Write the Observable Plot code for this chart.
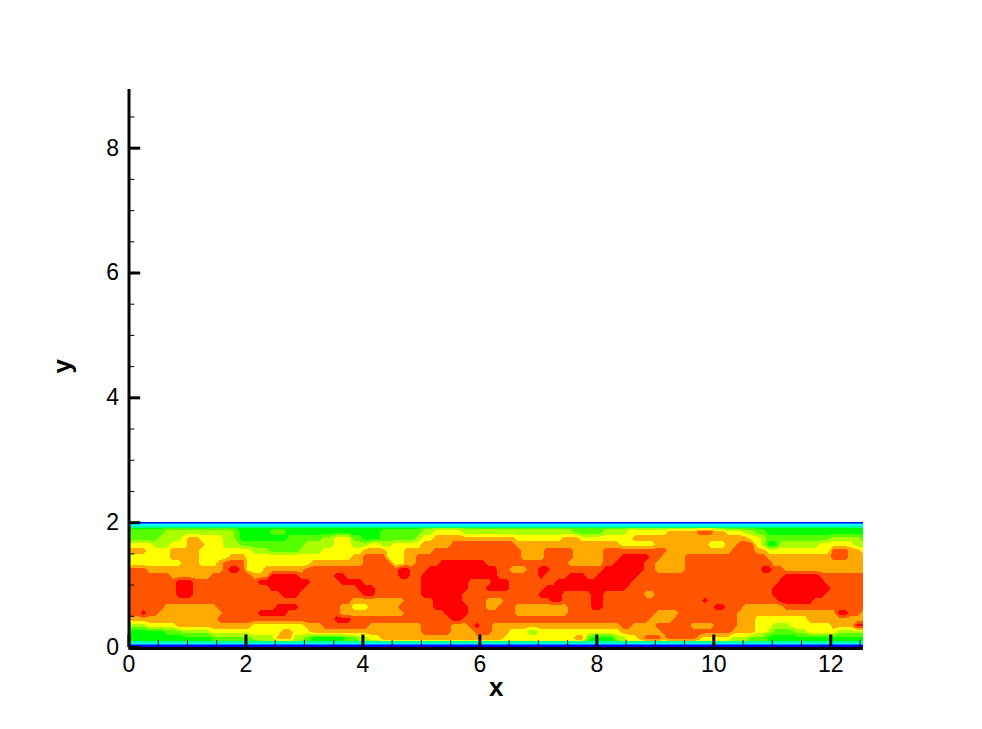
<!DOCTYPE html>
<html><head><meta charset="utf-8">
<style>html,body{margin:0;padding:0;background:#fff}svg{display:block}</style>
<script src="https://cdn.jsdelivr.net/npm/d3@7"></script>
<script src="https://cdn.jsdelivr.net/npm/@observablehq/plot@0.6"></script>
</head><body>
<script>
// Contour level, one string per row (top row first, rows 0.1 apart in y).
// Each token is level:endColumn, where columns are 0.1 apart in x.
const fieldRows = [
"6:50 7:100 6:126",
"7:6 8:18 7:19 6:24 7:27 6:43 7:50 8:52 9:57 8:76 7:81 8:85 9:92 a:97 b:100 a:102 9:105 8:107 7:109 6:126",
"7:5 8:9 9:10 a:12 9:16 8:18 7:19 6:27 7:33 8:35 9:38 7:40 6:43 7:49 8:50 9:52 a:66 9:74 a:77 9:85 9:86 a:106 9:108 8:109 7:120 8:125 7:126",
"9:4 8:7 9:10 a:13 9:16 8:19 7:30 8:35 9:38 8:41 9:43 8:45 9:50 a:55 b:66 a:84 9:90 a:99 9:102 a:104 b:107 9:108 8:109 6:111 8:118 9:124 8:126",
"a:3 9:7 a:12 9:21 8:24 7:29 8:33 9:40 a:44 9:47 a:52 b:67 a:71 b:76 a:81 b:92 a:103 b:107 a:109 9:120 b:123 a:125 9:126",
"9:7 a:12 9:17 a:20 9:38 a:40 b:44 9:47 a:49 b:67 a:71 b:76 a:81 b:84 c:89 b:91 a:95 b:109 a:120 b:123 a:126",
"9:9 a:12 9:15 a:16 b:20 9:31 a:40 b:45 9:47 a:49 b:53 c:61 b:75 a:81 b:83 c:88 b:90 a:95 b:110 a:126",
"b:3 a:16 b:17 c:19 b:20 9:23 a:30 b:46 c:48 b:51 c:63 b:65 a:68 b:70 c:72 b:81 c:88 b:90 a:95 b:108 c:110 b:112 a:126",
"b:7 a:14 b:21 a:24 c:29 b:35 c:37 b:46 c:48 b:50 c:63 b:70 c:71 b:75 c:78 b:80 c:87 b:112 c:118 b:126",
"b:8 c:11 b:22 c:31 b:36 c:40 b:50 c:58 b:62 c:65 b:73 c:86 b:111 c:119 b:126",
"b:8 c:11 b:24 c:30 b:39 c:42 b:50 c:58 b:61 c:65 b:71 c:85 b:110 c:120 b:126",
"b:8 c:11 b:26 c:29 b:40 c:42 b:50 c:57 b:70 c:74 b:79 c:81 b:88 a:90 b:110 c:119 b:126",
"b:38 a:47 b:52 c:57 b:61 a:64 b:72 c:74 b:79 c:81 b:98 c:99 b:111 c:117 b:126",
"b:6 a:15 b:25 c:29 b:36 a:38 9:41 a:46 b:52 c:58 b:61 a:63 b:66 a:75 b:79 c:81 b:100 c:102 b:105 a:112 b:126",
"b:2 c:3 b:5 a:16 b:22 c:27 b:36 a:47 b:54 c:58 b:66 a:75 b:90 a:94 b:104 a:121 c:123 b:125 a:126",
"a:15 b:35 c:38 b:55 c:57 b:89 a:93 b:104 a:107 9:116 a:126",
"8:3 9:8 a:21 9:30 a:33 b:41 a:50 b:55 a:58 b:59 c:60 b:62 a:84 b:86 a:90 b:96 a:100 b:104 a:107 9:110 8:113 9:120 a:124 c:126",
"6:6 7:9 8:14 9:26 a:28 9:31 a:50 b:55 a:59 b:62 a:65 9:68 8:70 9:84 a:91 b:103 a:107 9:109 8:110 7:114 8:116 9:121 8:126",
"6:14 7:21 8:25 a:28 8:30 7:31 6:37 7:39 8:41 9:43 a:64 9:76 a:78 7:79 6:83 8:85 9:87 a:88 b:91 a:92 b:97 a:98 9:103 8:106 7:109 6:126",
"6:22 7:43 8:78 6:84 8:105 7:110 6:115 5:126"
];
const fieldWidth = 126;
const fieldHeight = 20;
const levels = [4.5,5.5,6.5,7.5,8.5,9.5,10.5,11.5];
const levelColors = ["#00ff55","#00ff00","#55ff00","#aaff00","#ffff00","#ffaa00","#ff5500","#ff0000"];

// thin wall layers, from the bottom wall up and from the top wall down
const wallLow  = [0,    0.025, 0.05,  0.07];
const wallHigh = [0.025,0.05,  0.07,  0.09];
const topLow   = [1.985,1.965, 1.94,  1.91];
const topHigh  = [2,    1.985, 1.965, 1.94];
const wallColors = ["#0000ff","#0080ff","#00ffff","#00ff99"];

const xMajor = [0,2,4,6,8,10,12];
const xMinor = [0.5,1,1.5,2.5,3,3.5,4.5,5,5.5,6.5,7,7.5,8.5,9,9.5,10.5,11,11.5,12.5];
const yMajor = [0,2,4,6,8];
const yMinor = [0.5,1,1.5,2.5,3,3.5,4.5,5,5.5,6.5,7,7.5,8.5];
const xMax = 12.56, yMax = 8.94;

const expandRow = r => {
  const out = []; 
  for (const tok of r.split(" ")) {
    const [lev, end] = tok.split(":");
    while (out.length < +end) out.push(parseInt(lev, 16));
  }
  return out;
};
const values = fieldRows.slice().reverse().flatMap(expandRow);

const wallMark = (lo, hi) => Plot.rect(wallColors.map((c,i)=>i), {
  x1: 0, x2: xMax, y1: i => lo[i], y2: i => hi[i],
  fill: i => wallColors[i], shapeRendering: "crispEdges", inset: 0
});

const chart = Plot.plot({
  width: 982, height: 729,
  marginLeft: 128.5, marginRight: 119, marginTop: 89, marginBottom: 82,
  style: {fontFamily: "'Liberation Sans', Arial, sans-serif", background: "#fff", color: "#000"},
  x: {domain: [0, xMax], label: null},
  y: {domain: [0, yMax], label: null},
  color: {type: "ordinal", domain: levels, range: levelColors},
  marks: [
    Plot.contour(values, {
      x1: 0, x2: 12.6, y1: 0, y2: 2, width: fieldWidth, height: fieldHeight,
      fill: Plot.identity, thresholds: levels, clip: true, stroke: "none",
      shapeRendering: "crispEdges"
    }),
    wallMark(wallLow, wallHigh),
    wallMark(topLow, topHigh),
    Plot.axisX({ticks: xMajor, tickSize: 0, tickPadding: 8, fontSize: 23, label: null, tickFormat: d => d}),
    Plot.axisY({ticks: yMajor, tickSize: 0, tickPadding: 10, fontSize: 23, label: null, tickFormat: d => d}),
    Plot.ruleX(xMajor, {y1: 0, y2: 0.2, stroke: "#000", strokeWidth: 3}),
    Plot.ruleX(xMinor, {y1: 0, y2: 0.11, stroke: "#000", strokeWidth: 1}),
    Plot.ruleY(yMajor, {x1: 0, x2: 0.2, stroke: "#000", strokeWidth: 3}),
    Plot.ruleY(yMinor, {x1: 0, x2: 0.1, stroke: "#000", strokeWidth: 1}),
    Plot.ruleX([0], {y1: 0, y2: yMax, stroke: "#000", strokeWidth: 3}),
    Plot.ruleY([0], {x1: 0, x2: xMax, dy: 1, stroke: "#000", strokeWidth: 3}),
    Plot.text(["x"], {frameAnchor: "bottom", dy: 48, fontWeight: "bold", fontSize: 26, fill: "#000"}),
    Plot.text(["y"], {frameAnchor: "left", dx: -66, dy: 5, rotate: -90, fontWeight: "bold", fontSize: 26, fill: "#000"})
  ]
});
document.body.appendChild(chart);
</script>
</body></html>
